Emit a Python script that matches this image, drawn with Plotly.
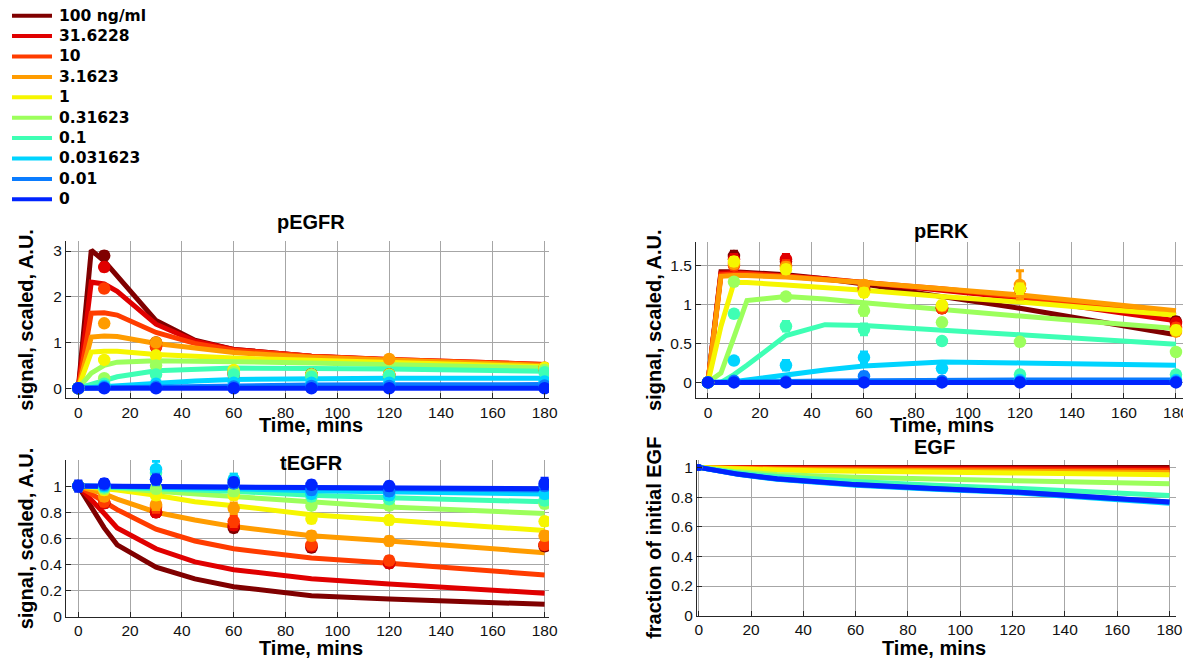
import plotly.graph_objects as go

# ---------------- data ----------------
CONC_LABELS = ['100 ng/ml', '31.6228', '10', '3.1623', '1', '0.31623', '0.1', '0.031623', '0.01', '0']
COLORS = ['#800000', '#e00000', '#ff3c00', '#ff9c00', '#f6f600', '#9cff5c', '#3effb4', '#00d4ff', '#0a7cff', '#0024ff']

T_MODEL = [0, 5, 10, 15, 30, 45, 60, 90, 120, 180]
T_DATA = [0, 10, 30, 60, 90, 120, 180]

PEGFR_MODEL = [
    [0, 3.02, 2.78, 2.45, 1.48, 1.05, 0.85, 0.70, 0.62, 0.50],
    [0, 2.32, 2.28, 2.12, 1.40, 1.03, 0.85, 0.70, 0.63, 0.52],
    [0, 1.64, 1.65, 1.60, 1.22, 0.98, 0.83, 0.70, 0.63, 0.52],
    [0, 1.12, 1.14, 1.13, 0.98, 0.88, 0.78, 0.68, 0.62, 0.50],
    [0, 0.79, 0.81, 0.81, 0.74, 0.70, 0.66, 0.61, 0.57, 0.47],
    [0, 0.33, 0.50, 0.57, 0.60, 0.60, 0.58, 0.55, 0.52, 0.44],
    [0, 0.08, 0.17, 0.25, 0.38, 0.42, 0.44, 0.43, 0.42, 0.37],
    [0, 0.02, 0.04, 0.06, 0.12, 0.16, 0.19, 0.21, 0.22, 0.22],
    [0, 0.005, 0.01, 0.02, 0.035, 0.05, 0.06, 0.07, 0.075, 0.08],
    [0, 0, 0, 0, 0, 0, 0, 0, 0, 0],
]
PEGFR_DATA = [
    [0, 2.90, 1.00, 0.35, 0.30, 0.30, 0.42],
    [0, 2.65, 0.90, 0.30, 0.30, 0.28, 0.40],
    [0, 2.18, 0.92, 0.32, 0.30, 0.30, 0.45],
    [0, 1.42, 1.00, 0.38, 0.30, 0.64, 0.45],
    [0, 0.62, 0.72, 0.40, 0.28, 0.30, 0.45],
    [0, 0.22, 0.50, 0.35, 0.30, 0.28, 0.40],
    [0, 0.10, 0.30, 0.30, 0.25, 0.28, 0.35],
    [0, 0.05, 0.10, 0.12, 0.12, 0.12, 0.15],
    [0, 0.02, 0.03, 0.04, 0.05, 0.05, 0.06],
    [0, 0, 0, 0, 0, 0, 0],
]
PEGFR_ERR = [
    [0.02, 0.08, 0.06, 0.05, 0.04, 0.04, 0.05],
    [0.02, 0.08, 0.06, 0.05, 0.04, 0.04, 0.05],
    [0.02, 0.07, 0.06, 0.05, 0.04, 0.04, 0.05],
    [0.02, 0.06, 0.06, 0.05, 0.04, 0.05, 0.05],
    [0.02, 0.05, 0.05, 0.04, 0.04, 0.04, 0.04],
    [0.02, 0.04, 0.05, 0.04, 0.04, 0.04, 0.04],
    [0.02, 0.04, 0.04, 0.04, 0.03, 0.03, 0.03],
    [0.02, 0.03, 0.03, 0.03, 0.03, 0.03, 0.03],
    [0.02, 0.02, 0.02, 0.02, 0.02, 0.02, 0.02],
    [0.02, 0.02, 0.02, 0.02, 0.02, 0.02, 0.02],
]

PERK_MODEL = [
    [0, 1.42, 1.42, 1.41, 1.38, 1.33, 1.26, 1.10, 0.95, 0.61],
    [0, 1.40, 1.41, 1.40, 1.37, 1.33, 1.28, 1.18, 1.08, 0.79],
    [0, 1.38, 1.39, 1.39, 1.36, 1.32, 1.28, 1.20, 1.10, 0.86],
    [0, 1.36, 1.37, 1.37, 1.35, 1.32, 1.28, 1.20, 1.12, 0.92],
    [0, 0.72, 1.28, 1.28, 1.25, 1.22, 1.18, 1.10, 1.03, 0.86],
    [0, 0.12, 0.58, 1.05, 1.10, 1.07, 1.02, 0.93, 0.85, 0.69],
    [0, 0.00, 0.10, 0.22, 0.60, 0.74, 0.73, 0.67, 0.61, 0.49],
    [0, 0.00, 0.01, 0.03, 0.10, 0.16, 0.21, 0.26, 0.25, 0.22],
    [0, 0.00, 0.002, 0.005, 0.012, 0.018, 0.022, 0.03, 0.032, 0.03],
    [0, 0, 0, 0, 0, 0, 0, 0, 0, 0],
]
PERK_DATA = [
    [0, 1.62, 1.55, 1.20, 0.95, 1.20, 0.78],
    [0, 1.58, 1.58, 1.22, 0.96, 1.20, 0.76],
    [0, 1.50, 1.50, 1.18, 0.95, 1.20, 0.70],
    [0, 1.52, 1.48, 1.25, 0.98, 1.25, 0.65],
    [0, 1.55, 1.45, 1.15, 0.99, 1.20, 0.67],
    [0, 1.29, 1.10, 0.92, 0.77, 0.52, 0.39],
    [0, 0.88, 0.72, 0.68, 0.53, 0.10, 0.10],
    [0, 0.28, 0.22, 0.32, 0.18, 0.03, 0.03],
    [0, 0.02, 0.01, 0.08, 0.02, 0.01, 0.01],
    [0, 0, 0, 0, 0, 0, 0],
]
PERK_ERR = [
    [0.02, 0.06, 0.05, 0.05, 0.05, 0.05, 0.05],
    [0.02, 0.06, 0.06, 0.05, 0.05, 0.05, 0.05],
    [0.02, 0.05, 0.06, 0.05, 0.05, 0.06, 0.05],
    [0.02, 0.05, 0.05, 0.05, 0.05, 0.18, 0.05],
    [0.02, 0.05, 0.05, 0.05, 0.05, 0.06, 0.05],
    [0.02, 0.04, 0.04, 0.06, 0.04, 0.04, 0.04],
    [0.02, 0.04, 0.06, 0.07, 0.04, 0.04, 0.04],
    [0.02, 0.04, 0.06, 0.07, 0.05, 0.03, 0.03],
    [0.02, 0.03, 0.03, 0.05, 0.03, 0.03, 0.03],
    [0.02, 0.03, 0.03, 0.03, 0.03, 0.03, 0.03],
]

TEGFR_MODEL = [
    [1, 0.84, 0.68, 0.55, 0.38, 0.29, 0.23, 0.16, 0.135, 0.095],
    [1, 0.90, 0.79, 0.68, 0.52, 0.42, 0.36, 0.29, 0.25, 0.18],
    [1, 0.94, 0.88, 0.82, 0.67, 0.58, 0.52, 0.45, 0.41, 0.32],
    [1, 0.97, 0.94, 0.90, 0.80, 0.74, 0.69, 0.62, 0.58, 0.49],
    [1, 0.99, 0.98, 0.97, 0.93, 0.88, 0.85, 0.78, 0.74, 0.66],
    [1, 0.996, 0.99, 0.985, 0.96, 0.94, 0.92, 0.88, 0.84, 0.79],
    [1, 0.998, 0.996, 0.99, 0.98, 0.97, 0.96, 0.93, 0.91, 0.88],
    [1, 0.999, 0.998, 0.996, 0.99, 0.985, 0.98, 0.965, 0.955, 0.94],
    [1, 1.0, 0.999, 0.998, 0.995, 0.992, 0.99, 0.985, 0.98, 0.97],
    [1, 1.0, 1.0, 1.0, 0.998, 0.995, 0.993, 0.99, 0.987, 0.98],
]
TEGFR_DATA = [
    [1, 0.87, 0.80, 0.68, 0.53, 0.41, 0.54],
    [1, 0.87, 0.80, 0.70, 0.54, 0.41, 0.55],
    [1, 0.88, 0.84, 0.73, 0.55, 0.43, 0.55],
    [1, 0.92, 0.86, 0.83, 0.62, 0.58, 0.62],
    [1, 0.97, 0.93, 0.93, 0.75, 0.74, 0.73],
    [1, 0.98, 0.98, 0.96, 0.85, 0.85, 0.865],
    [1, 0.99, 1.10, 1.05, 0.92, 0.90, 0.89],
    [1, 1.00, 1.13, 1.05, 0.94, 0.93, 0.94],
    [1, 1.01, 1.05, 1.02, 0.97, 0.96, 1.00],
    [1, 1.02, 1.05, 1.03, 1.01, 1.00, 1.02],
]
TEGFR_ERR = [
    [0.03, 0.03, 0.03, 0.03, 0.03, 0.03, 0.03],
    [0.03, 0.03, 0.03, 0.03, 0.03, 0.03, 0.03],
    [0.03, 0.03, 0.04, 0.04, 0.03, 0.03, 0.03],
    [0.03, 0.03, 0.04, 0.04, 0.03, 0.03, 0.03],
    [0.03, 0.03, 0.03, 0.03, 0.03, 0.03, 0.03],
    [0.03, 0.03, 0.03, 0.03, 0.03, 0.03, 0.03],
    [0.03, 0.03, 0.05, 0.04, 0.03, 0.03, 0.03],
    [0.03, 0.03, 0.06, 0.04, 0.03, 0.03, 0.03],
    [0.03, 0.03, 0.04, 0.03, 0.03, 0.03, 0.03],
    [0.04, 0.03, 0.03, 0.03, 0.03, 0.03, 0.04],
]

EGF_MODEL = [
    [1, 1.0, 1.0, 1.0, 1.0, 1.0, 1.0, 0.999, 0.999, 0.999],
    [1, 0.999, 0.999, 0.998, 0.997, 0.996, 0.995, 0.994, 0.993, 0.99],
    [1, 0.998, 0.997, 0.996, 0.993, 0.991, 0.989, 0.987, 0.985, 0.978],
    [1, 0.997, 0.995, 0.993, 0.988, 0.985, 0.983, 0.979, 0.975, 0.965],
    [1, 0.996, 0.992, 0.989, 0.982, 0.977, 0.973, 0.967, 0.962, 0.95],
    [1, 0.988, 0.978, 0.97, 0.953, 0.942, 0.934, 0.922, 0.911, 0.89],
    [1, 0.985, 0.972, 0.962, 0.938, 0.92, 0.905, 0.88, 0.86, 0.81],
    [1, 0.982, 0.966, 0.953, 0.92, 0.897, 0.88, 0.852, 0.83, 0.758],
    [1, 0.983, 0.967, 0.954, 0.922, 0.9, 0.883, 0.856, 0.834, 0.765],
    [1, 0.983, 0.968, 0.955, 0.923, 0.901, 0.884, 0.857, 0.835, 0.766],
]
EGF_DATA_T = [0]
EGF_DATA = [[1], [1], [1], [1], [1], [1], [1], [1], [1], [1]]

X_TICKS = [0, 20, 40, 60, 80, 100, 120, 140, 160, 180]

# ---------------- layout helpers ----------------
W, H = 1183, 662


def fx(p):
    return min(p / W, 1.0)


def fy(p):
    return 1 - p / H


FONT = 'Liberation Sans, Arial, Helvetica, sans-serif'

fig = go.Figure()

panels = [
    dict(title='pEGFR', ylab='signal, scaled, A.U.', model=PEGFR_MODEL, data=PEGFR_DATA, err=PEGFR_ERR,
         dt=T_DATA, ax='', dom_x=(66, 549), dom_y=(241, 398.3), xr=[-4.75, 181.7], yr=[-0.22, 3.22],
         yt=[0, 1, 2, 3], title_y=222, ylab_x=26, xlab_y=425, msize=12.5),
    dict(title='pERK', ylab='signal, scaled, A.U.', model=PERK_MODEL, data=PERK_DATA, err=PERK_ERR,
         dt=T_DATA, ax='2', dom_x=(696, 1183), dom_y=(242, 398), xr=[-4.6, 182.7], yr=[-0.2, 1.8],
         yt=[0, 0.5, 1, 1.5], title_y=231, ylab_x=654, xlab_y=425, msize=12.5),
    dict(title='tEGFR', ylab='signal, scaled, A.U.', model=TEGFR_MODEL, data=TEGFR_DATA, err=TEGFR_ERR,
         dt=T_DATA, ax='3', dom_x=(66, 549), dom_y=(460, 616.7), xr=[-4.75, 181.7], yr=[0, 1.2],
         yt=[0, 0.2, 0.4, 0.6, 0.8, 1], title_y=463, ylab_x=26, xlab_y=648, msize=12.5),
    dict(title='EGF', ylab='fraction of initial EGF', model=EGF_MODEL, data=EGF_DATA, err=None,
         dt=EGF_DATA_T, ax='4', dom_x=(697, 1176), dom_y=(460, 615.7), xr=[-0.65, 182.5], yr=[0, 1.05],
         yt=[0, 0.2, 0.4, 0.6, 0.8, 1], title_y=447, ylab_x=654, xlab_y=648, msize=7),
]

annotations = []
shapes = []

for p in panels:
    xa = 'x' + p['ax']
    ya = 'y' + p['ax']
    # model curves
    for i in range(len(CONC_LABELS)):
        fig.add_trace(go.Scatter(
            x=T_MODEL, y=p['model'][i], mode='lines', xaxis=xa, yaxis=ya,
            line=dict(color=COLORS[i], width=5), name=CONC_LABELS[i],
            showlegend=False))
    # measured data with error bars
    for i in range(len(CONC_LABELS)):
        c = COLORS[i]
        err = p['err'][i] if p['err'] is not None else None
        fig.add_trace(go.Scatter(
            x=p['dt'], y=p['data'][i], mode='markers', xaxis=xa, yaxis=ya,
            marker=dict(size=p['msize'], color=c, line=dict(width=0)),
            error_y=(dict(type='data', array=err, visible=True, color=c, thickness=3, width=4)
                     if err is not None else None),
            showlegend=False, hoverinfo='skip', name=CONC_LABELS[i]))

    axis_common = dict(showline=True, linecolor='#262626', linewidth=1, ticks='inside', ticklen=5,
                       tickcolor='#262626', showgrid=True, gridcolor='#a6a6a6', gridwidth=1,
                       zeroline=False, tickfont=dict(family=FONT, size=15.5, color='#111111'),
                       mirror=False, automargin=False, ticklabeloverflow='allow')
    xname = 'xaxis' + p['ax']
    yname = 'yaxis' + p['ax']
    fig.layout[xname] = dict(axis_common, domain=[fx(p['dom_x'][0]), fx(p['dom_x'][1])],
                             range=p['xr'], tickvals=X_TICKS, anchor=ya)
    fig.layout[yname] = dict(axis_common, domain=[fy(p['dom_y'][1]), fy(p['dom_y'][0])],
                             range=p['yr'], tickvals=p['yt'], anchor=xa)

    x0_px = p['dom_x'][0]
    x1_px = p['dom_x'][1]
    span = p['xr'][1] - p['xr'][0]
    cx = x0_px + (90 - p['xr'][0]) / span * (x1_px - x0_px)
    cy = (p['dom_y'][0] + p['dom_y'][1]) / 2
    bold = dict(family=FONT, size=20, color='#000000', weight='bold')
    annotations.append(dict(text=p['title'], x=fx(cx), y=fy(p['title_y']), xref='paper', yref='paper',
                            showarrow=False, font=bold, xanchor='center', yanchor='middle'))
    annotations.append(dict(text='Time, mins', x=fx(cx), y=fy(p['xlab_y']), xref='paper', yref='paper',
                            showarrow=False, font=bold, xanchor='center', yanchor='middle'))
    annotations.append(dict(text=p['ylab'], x=fx(p['ylab_x']), y=fy(cy), xref='paper', yref='paper',
                            showarrow=False, font=bold, textangle=-90, xanchor='center', yanchor='middle'))

# manual legend (top-left)
for i, lab in enumerate(CONC_LABELS):
    yy = 15.7 + i * 20.4
    shapes.append(dict(type='line', xref='paper', yref='paper', x0=fx(12), x1=fx(52), y0=fy(yy), y1=fy(yy),
                       line=dict(color=COLORS[i], width=4)))
    annotations.append(dict(text=lab, x=fx(57), y=fy(yy), xref='paper', yref='paper', showarrow=False,
                            xanchor='left', yanchor='middle',
                            font=dict(family='DejaVu Sans', size=15.5, color='#000000', weight='bold')))

fig.update_layout(
    width=W, height=H, margin=dict(l=0, r=0, t=0, b=0, autoexpand=False),
    paper_bgcolor='white', plot_bgcolor='white',
    showlegend=False, annotations=annotations, shapes=shapes,
)

fig.write_html('out.html',
               post_script="document.documentElement.style.overflow='hidden';"
                           "document.body.style.margin='0';document.body.style.overflow='hidden';")
